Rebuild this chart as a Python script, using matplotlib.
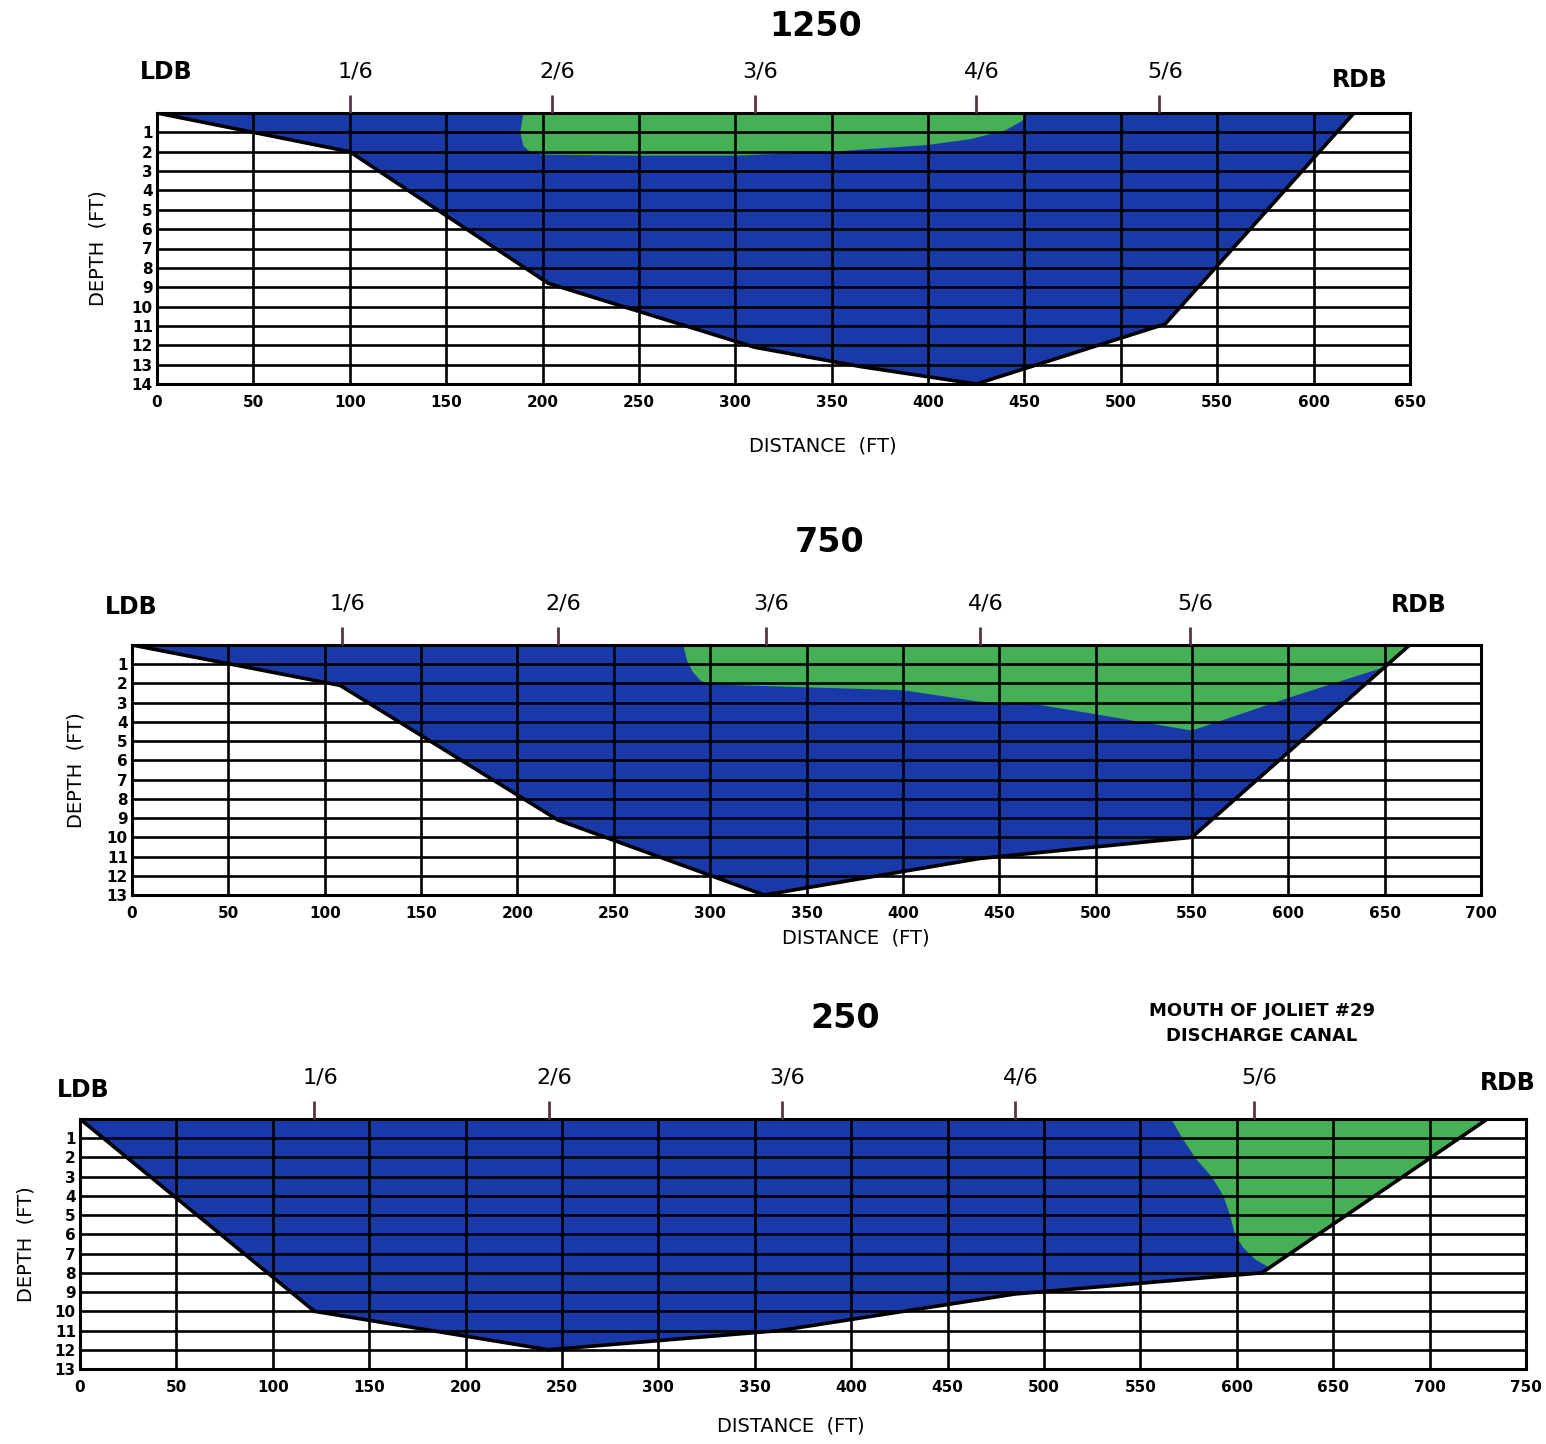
import matplotlib
matplotlib.use("Agg")
import matplotlib.pyplot as plt
import numpy as np

W, H = 1546, 1444
BLUE = "#1a39a8"
GREEN = "#45b055"
MARK = "#5a3346"

plt.rcParams["font.family"] = ["DejaVu Sans"]

# --- data (distance ft / depth ft) ---
# 1250 transect
p1_x = [0, 100, 203, 310, 365, 425, 523, 621]
p1_d = [0, 2.0, 8.8, 12.1, 13.1, 14.0, 10.9, 0]
g1_x = [190, 188.5, 190, 194, 200, 250, 300, 350, 400, 422, 440, 449, 451]
g1_d = [0, 1.0, 1.7, 2.05, 2.15, 2.2, 2.2, 2.0, 1.65, 1.35, 0.9, 0.4, 0]
m1 = [100, 205, 310, 425, 520]

# 750 transect
p2_x = [0, 108, 221, 328, 440, 550, 663]
p2_d = [0, 2.1, 9.1, 13.0, 11.1, 10.0, 0]
g2_x = [286, 288, 291, 295, 300, 350, 400, 440, 470, 500, 550, 600, 650, 663]
g2_d = [0, 0.8, 1.4, 1.85, 2.05, 2.2, 2.35, 2.95, 3.1, 3.6, 4.45, 2.75, 1.15, 0]
m2 = [109, 221, 329, 440, 549]

# 250 transect
p3_x = [0, 121.6, 243, 363, 485, 613, 730]
p3_d = [0, 10.0, 12.0, 11.0, 9.1, 8.0, 0]
g3_x = [566, 572, 579, 587, 593, 596.5, 599, 603.4, 609.5, 614.7, 617, 730]
g3_d = [0, 1.04, 2.1, 3.0, 4.0, 5.0, 6.0, 6.7, 7.3, 7.6, 7.73, 0]
m3 = [121.6, 243, 364, 485, 609]

fractions = ["1/6", "2/6", "3/6", "4/6", "5/6"]

fig = plt.figure(figsize=(W / 100, H / 100), dpi=100)


def ftext(px, py, s, **kw):
    fig.text(px / W, 1 - py / H, s, ha="center", va="center", **kw)


def panel(left, right, top, bottom, xmax, dmax, px, pd, gx, gd, marks,
          ylab_dx, xlab_dx, xlab_dy):
    ax = fig.add_axes([left / W, 1 - bottom / H, (right - left) / W, (bottom - top) / H])
    ax.fill_between(px, 0, pd, color=BLUE, lw=0, zorder=1)
    ax.fill(gx + [gx[0]], gd + [gd[0]], color=GREEN, lw=0, zorder=1.5)
    ax.plot(px, pd, color="black", lw=2.6, zorder=4, solid_joinstyle="miter")
    ax.set_xlim(0, xmax)
    ax.set_ylim(dmax, 0)
    ax.set_xticks(np.arange(0, xmax + 1, 50))
    ax.set_yticks(np.arange(1, dmax + 1, 1))
    ax.grid(True, color="black", lw=1.9)
    ax.set_axisbelow(False)
    ax.tick_params(length=0, labelsize=11)
    ax.tick_params(axis="x", pad=8)
    ax.tick_params(axis="y", pad=3)
    for lab in ax.get_xticklabels() + ax.get_yticklabels():
        lab.set_fontweight("bold")
    for sp in ax.spines.values():
        sp.set_linewidth(2.2)
        sp.set_color("black")
    # sixth-point markers
    ax.vlines(marks, -0.95, 0, color=MARK, lw=2, clip_on=False, zorder=5)
    for m, f in zip(marks, fractions):
        ax.annotate(f, xy=(m, 1), xycoords=("data", "axes fraction"),
                    xytext=(4, 30), textcoords="offset points",
                    ha="center", va="center", fontsize=16)
    wpx, hpx = right - left, bottom - top
    ax.set_ylabel("DEPTH  (FT)", fontsize=14)
    ax.yaxis.set_label_coords(-(ylab_dx - 10) / wpx, 0.5)
    ax.set_xlabel("DISTANCE  (FT)", fontsize=14)
    ax.xaxis.set_label_coords(0.5 + xlab_dx / wpx, -(xlab_dy - 9) / hpx)
    return ax


panel(157, 1410, 113, 384, 650, 14, p1_x, p1_d, g1_x, g1_d, m1, 60, 39, 62)
panel(132, 1481, 645, 895, 700, 13, p2_x, p2_d, g2_x, g2_d, m2, 57, 49, 42)
panel(80, 1526, 1119, 1369, 750, 13, p3_x, p3_d, g3_x, g3_d, m3, 55, -12, 56)

# titles and bank labels
ftext(816, 26, "1250", fontsize=24, fontweight="bold")
ftext(166, 72, "LDB", fontsize=17, fontweight="bold")
ftext(1360, 80, "RDB", fontsize=17, fontweight="bold")

ftext(830, 543, "750", fontsize=24, fontweight="bold")
ftext(131, 607, "LDB", fontsize=17, fontweight="bold")
ftext(1419, 605, "RDB", fontsize=17, fontweight="bold")

ftext(845, 1018, "250", fontsize=24, fontweight="bold")
ftext(1262, 1011, "MOUTH OF JOLIET #29", fontsize=13, fontweight="bold")
ftext(1262, 1036, "DISCHARGE CANAL", fontsize=13, fontweight="bold")
ftext(83, 1090, "LDB", fontsize=17, fontweight="bold")
ftext(1508, 1083, "RDB", fontsize=17, fontweight="bold")

fig.savefig("out.png", dpi=100)
